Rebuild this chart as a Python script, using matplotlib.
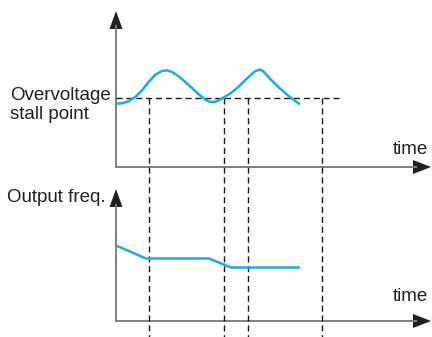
import matplotlib
matplotlib.use("Agg")
import matplotlib.pyplot as plt
from matplotlib.patches import Polygon

plt.rcParams['font.family'] = ['Liberation Sans', 'DejaVu Sans']

# Voltage curve (x, y in diagram pixel units; time axis origin at x=116)
volt_t = [115.3, 122, 128.7, 135.3, 142, 148.7, 155.3, 162, 167, 172, 178.7, 185.3,
          192, 198.7, 205.3, 210.3, 215.3, 221.7, 230, 238.3, 246.7, 255, 260,
          263.3, 270, 278.3, 286.7, 293.3, 300]
volt_v = [103.7, 103.3, 101.3, 97, 90.3, 82, 74.7, 71, 70.3, 72, 76.3, 82,
          88, 94.3, 99.7, 102, 101.8, 98.7, 93.7, 87, 78.7, 71.3, 69.5,
          71.3, 78.7, 87, 94.3, 99.7, 104.3]

# Output frequency
freq_t = [116, 146, 209, 231, 300]
freq_v = [245.5, 258.5, 258.5, 267.5, 267.5]

# Stall level and event times
stall_level = 98
stall_end = 342
event_t = [149, 224, 248, 322]

blue = '#1aace6'
axis_gray = '#7f7f7f'
dark = '#231f20'

fig = plt.figure(figsize=(4.32, 3.37), dpi=100)
ax = fig.add_axes([0, 0, 1, 1])
ax.set_xlim(0, 432)
ax.set_ylim(337, 0)
ax.axis('off')

origin_x = 116
top_y, bot_y = 167, 321

# axes lines
ax.plot([origin_x, origin_x], [top_y, 26], color=axis_gray, lw=1.4)
ax.plot([origin_x, 416], [top_y, top_y], color=axis_gray, lw=1.4)
ax.plot([origin_x, origin_x], [bot_y, 205], color=axis_gray, lw=1.4)
ax.plot([origin_x, 416], [bot_y, bot_y], color=axis_gray, lw=1.4)

# arrowheads
for tip_y, base_y in [(11, 29), (189, 207)]:
    ax.add_patch(Polygon([[origin_x, tip_y], [origin_x - 6.5, base_y], [origin_x + 6.5, base_y]],
                         closed=True, color=dark, lw=0))
for yy in [top_y, bot_y]:
    ax.add_patch(Polygon([[431, yy], [413, yy - 7], [413, yy + 7]],
                         closed=True, color=dark, lw=0))

# dashed lines
dash = (4.4, 2.7)
ax.plot([origin_x, stall_end], [stall_level, stall_level], color='#1a1a1a', lw=1.0,
        dashes=dash)
for t in event_t:
    ax.plot([t, t], [stall_level, 337], color='#1a1a1a', lw=1.0, dashes=dash)

# curves
ax.plot(volt_t, volt_v, color=blue, lw=1.8, solid_capstyle='butt', solid_joinstyle='round')
ax.plot(freq_t, freq_v, color=blue, lw=1.8, solid_capstyle='butt')

fs = 13.5
ax.text(10, 100.5, 'Overvoltage', fontsize=fs, color=dark, va='baseline', ha='left')
ax.text(10, 119, 'stall point', fontsize=fs, color=dark, va='baseline', ha='left')
ax.text(7, 201.5, 'Output freq.', fontsize=fs, color=dark, va='baseline', ha='left')
ax.text(428, 154, 'time', fontsize=fs, color=dark, va='baseline', ha='right')
ax.text(428, 301, 'time', fontsize=fs, color=dark, va='baseline', ha='right')

fig.savefig('out.png', dpi=100)
